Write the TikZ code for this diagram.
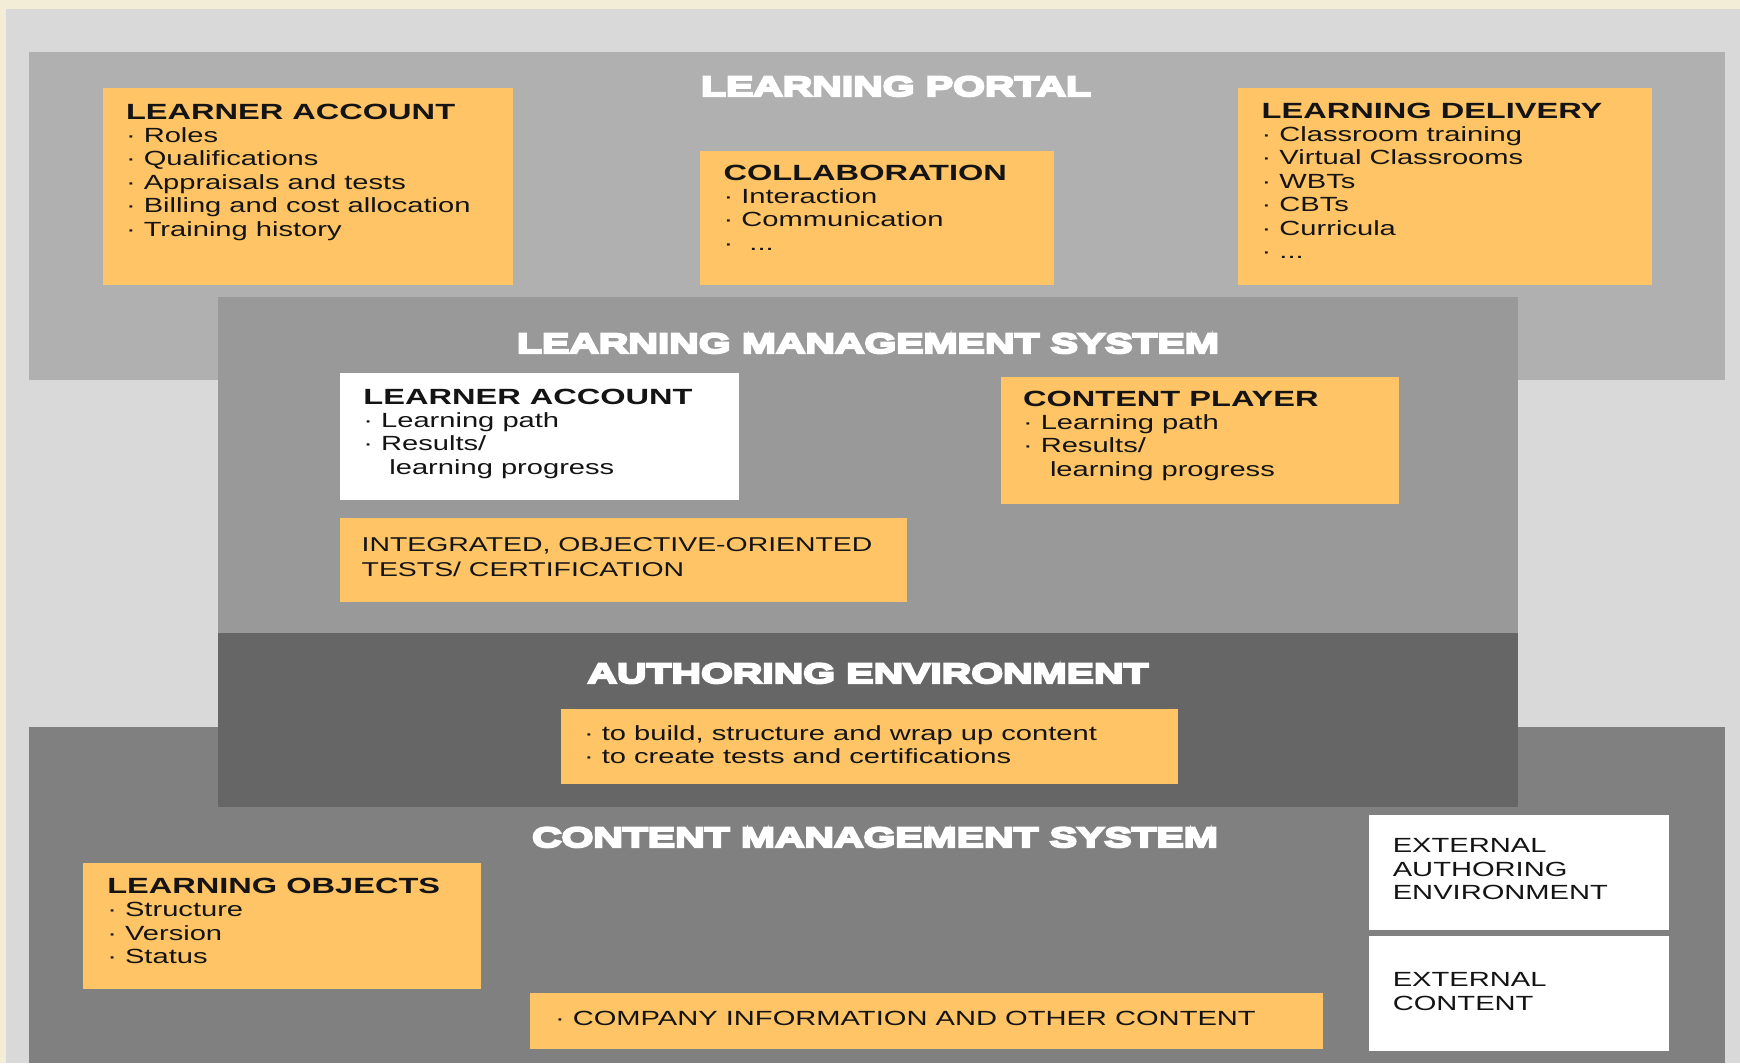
\documentclass[tikz,border=0pt]{standalone}
\usepackage{fontspec}
\setmainfont{Liberation Sans}
\newfontfamily\bodyfont{Liberation Sans}[FakeStretch=1.42]
\newfontfamily\headfont{Liberation Sans}[FakeStretch=1.48]
\newfontface\titlefont{Liberation Sans Bold}[FakeStretch=1.46, FakeBold=8]
\definecolor{cream}{HTML}{F3ECD6}
\definecolor{lgray}{HTML}{D9D9D9}
\definecolor{portalc}{HTML}{B0B0B0}
\definecolor{lmsc}{HTML}{999999}
\definecolor{authc}{HTML}{666666}
\definecolor{cmsc}{HTML}{808080}
\definecolor{orng}{HTML}{FFC466}
\definecolor{ink}{HTML}{141414}
\newcommand\hd[1]{{\headfont\bfseries\fontsize{22}{23.4}\selectfont #1}}
\begin{document}
\begin{tikzpicture}[x=1pt,y=-1pt,
  panel/.style={anchor=north west, inner sep=0pt, outer sep=0pt, draw=none},
  obox/.style={panel, fill=orng},
  wbox/.style={panel, fill=white},
  txt/.style={anchor=base west, inner sep=0pt, outer sep=0pt, align=left, text=ink,
    font={\bodyfont\fontsize{20.5}{23.4}\selectfont}},
  ttl/.style={anchor=base, inner sep=0pt, text=white,
    font={\titlefont\fontsize{28}{30}\selectfont}}]
\fill[cream] (0,0) rectangle (1740,1063);
\path[use as bounding box] (0,0) rectangle (1740,1063);
% panels
\node[panel, fill=lgray, minimum width=1734, minimum height=1054] (bg) at (6,9) {};
\node[panel, fill=portalc, minimum width=1696, minimum height=328] (portal) at (29,52) {};
\node[panel, fill=cmsc, minimum width=1696, minimum height=336] (cms) at (29,727) {};
\node[panel, fill=lmsc, minimum width=1300, minimum height=336] (lms) at (218,297) {};
\node[panel, fill=authc, minimum width=1300, minimum height=174] (auth) at (218,633) {};
% titles
\node[ttl] (lpt) at (896,96) {LEARNING PORTAL};
\node[ttl] (lmst) at (868,353) {LEARNING MANAGEMENT SYSTEM};
\node[ttl] (autht) at (868,683) {AUTHORING ENVIRONMENT};
\node[ttl] (cmst) at (875,847) {CONTENT MANAGEMENT SYSTEM};
% boxes
\node[obox, minimum width=410, minimum height=197] (la1) at (103,88) {};
\node[obox, minimum width=354, minimum height=134] (col) at (700,151) {};
\node[obox, minimum width=414, minimum height=197] (ld) at (1238,88) {};
\node[wbox, minimum width=399, minimum height=127] (la2) at (340,373) {};
\node[obox, minimum width=567, minimum height=84] (integ) at (340,518) {};
\node[obox, minimum width=398, minimum height=127] (cp) at (1001,377) {};
\node[obox, minimum width=617, minimum height=75] (aebox) at (561,709) {};
\node[obox, minimum width=398, minimum height=126] (lo) at (83,863) {};
\node[obox, minimum width=793, minimum height=56] (comp) at (530,993) {};
\node[wbox, minimum width=300, minimum height=115] (ext1) at (1369,815) {};
\node[wbox, minimum width=300, minimum height=115] (ext2) at (1369,936) {};
% texts (base anchor = baseline of the last line)
\node[txt] (la1t) at (126,236) {\hd{LEARNER ACCOUNT}\\ · Roles\\ · Qualifications\\ · Appraisals and tests\\ · Billing and cost allocation\\ · Training history};
\node[txt] (colt) at (723.6,250.2) {\hd{COLLABORATION}\\ · Interaction\\ · Communication\\ ·\ \ ...};
\node[txt] (ldt) at (1261.7,258.4) {\hd{LEARNING DELIVERY}\\ · Classroom training\\ · Virtual Classrooms\\ · WBTs\\ · CBTs\\ · Curricula\\ · ...};
\node[txt] (la2t) at (363.4,474.2) {\hd{LEARNER ACCOUNT}\\ · Learning path\\ · Results/\\ \hspace*{26pt}learning progress};
\node[txt] (cpt) at (1023,476.2) {\hd{CONTENT PLAYER}\\ · Learning path\\ · Results/\\ \hspace*{27pt}learning progress};
\node[txt, font={\bodyfont\fontsize{20}{23.4}\selectfont}] (integt) at (361.7,576.6) {INTEGRATED, OBJECTIVE-ORIENTED\\[1.5pt] TESTS/ CERTIFICATION};
\node[txt] (aet) at (584,763.4) {· to build, structure and wrap up content\\ · to create tests and certifications};
\node[txt] (lot) at (107.3,963.5) {\hd{LEARNING OBJECTS}\\ · Structure\\ · Version\\ · Status};
\node[txt] (compt) at (555,1025) {· COMPANY INFORMATION AND OTHER CONTENT};
\node[txt] (ext1t) at (1392.8,899.5) {EXTERNAL\\ AUTHORING\\ ENVIRONMENT};
\node[txt] (ext2t) at (1392.8,1010.1) {EXTERNAL\\ CONTENT};
\end{tikzpicture}
\end{document}
